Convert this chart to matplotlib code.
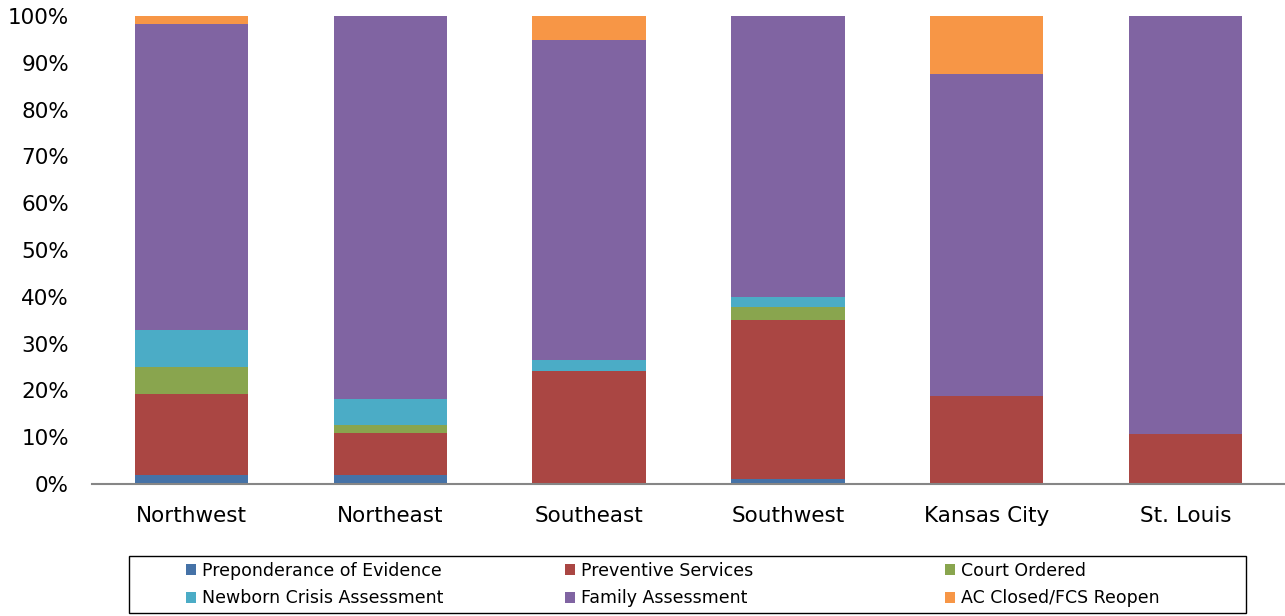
import matplotlib
matplotlib.use("Agg")
import matplotlib.pyplot as plt
from matplotlib.ticker import PercentFormatter
from matplotlib.patches import Rectangle

regions = ['Northwest', 'Northeast', 'Southeast', 'Southwest', 'Kansas City', 'St. Louis']

preponderance = [1.9, 1.85, 0.0, 1.0, 0.0, 0.0]
preventive = [17.4, 9.1, 24.1, 34.0, 18.8, 10.6]
court = [5.7, 1.7, 0.0, 2.9, 0.0, 0.0]
newborn = [7.8, 5.5, 2.5, 2.1, 0.0, 0.0]
family = [65.4, 81.85, 68.2, 60.0, 68.8, 89.4]
ac_closed = [1.8, 0.0, 5.2, 0.0, 12.4, 0.0]

series = [
    ('Preponderance of Evidence', preponderance, '#4572A7'),
    ('Preventive Services', preventive, '#AA4643'),
    ('Court Ordered', court, '#89A54E'),
    ('Newborn Crisis Assessment', newborn, '#4BACC6'),
    ('Family Assessment', family, '#8064A2'),
    ('AC Closed/FCS Reopen', ac_closed, '#F79646'),
]

W, H = 1285, 616
fig = plt.figure(figsize=(W/100, H/100), dpi=100)
ax = fig.add_axes([92/W, 1 - 484/H, 1 - 92/W, (484 - 16)/H])

x = list(range(len(regions)))
bottom = [0.0] * len(regions)
handles = {}
for name, vals, col in series:
    b = ax.bar(x, vals, bottom=bottom, width=0.57, color=col, linewidth=0, label=name)
    handles[name] = b
    bottom = [bt + v for bt, v in zip(bottom, vals)]

ax.set_xlim(-0.5, len(regions) - 0.5)
ax.set_ylim(0, 100)
ax.set_yticks(range(0, 101, 10))
ax.yaxis.set_major_formatter(PercentFormatter(decimals=0))
ax.set_xticks(x)
ax.set_xticklabels(regions)
ax.tick_params(axis='y', length=0, pad=16.5, labelsize=15.5)
ax.tick_params(axis='x', length=0, pad=16, labelsize=15.5)
for s in ['top', 'right', 'left']:
    ax.spines[s].set_visible(False)
ax.spines['bottom'].set_color('#868686')
ax.spines['bottom'].set_linewidth(1.5)

# legend: three columns, each its own legend, inside one frame
columns = [
    ['Preponderance of Evidence', 'Newborn Crisis Assessment'],
    ['Preventive Services', 'Family Assessment'],
    ['Court Ordered', 'AC Closed/FCS Reopen'],
]
col_x = [186, 565, 945]
for cx, names in zip(col_x, columns):
    leg = fig.legend([handles[n] for n in names], names, loc='center left',
                     bbox_to_anchor=(cx/W, 1 - 584.5/H), fontsize=12.5, frameon=False,
                     handlelength=0.6, handleheight=0.6, handletextpad=0.3,
                     labelspacing=0.55, borderpad=0, borderaxespad=0)
fig.add_artist(Rectangle((129/W, 1 - 613/H), (1246 - 129)/W, (613 - 556)/H,
                         transform=fig.transFigure, fill=False, edgecolor='black', linewidth=1.0))

fig.savefig('out.png', dpi=100)
